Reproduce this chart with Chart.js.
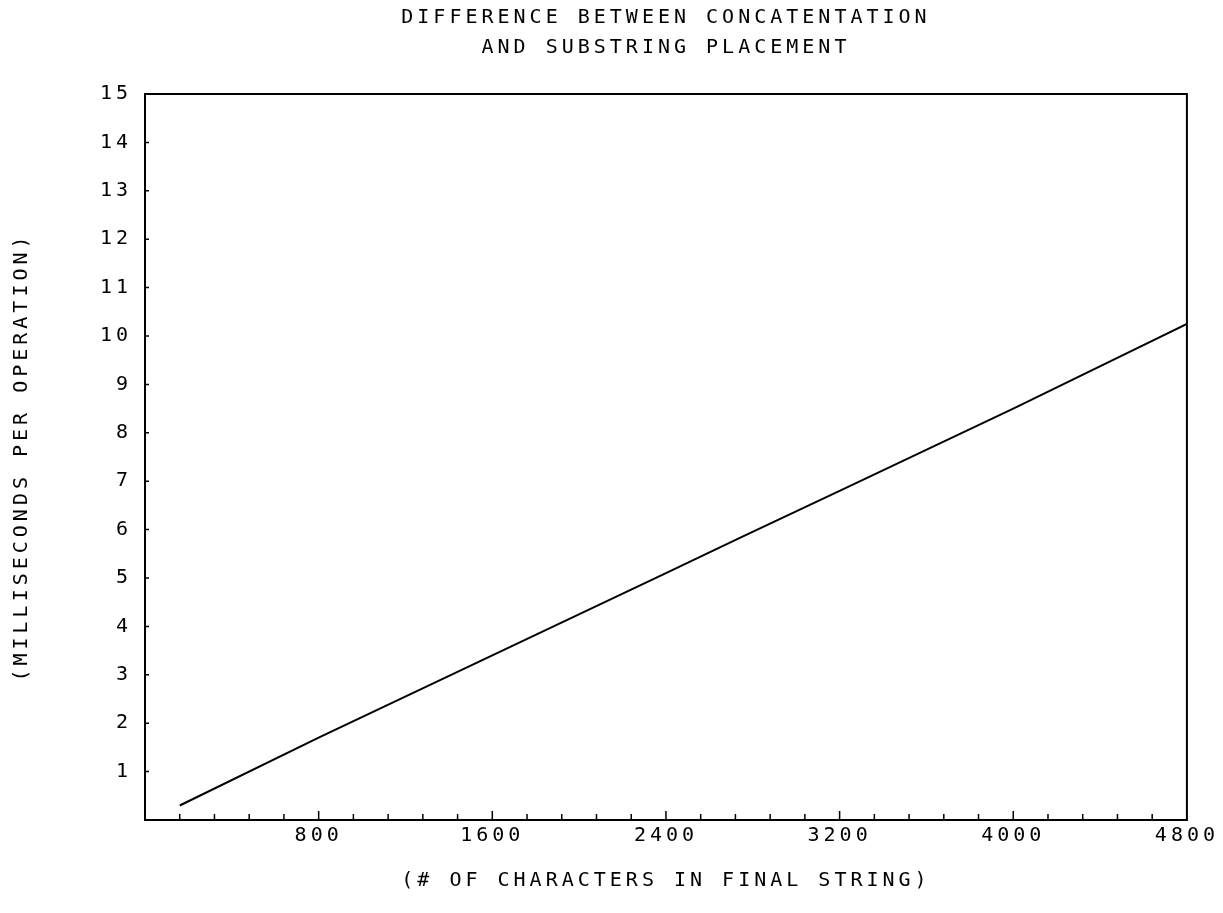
<!DOCTYPE html>
<html>
<head>
<meta charset="utf-8">
<script src="https://cdn.jsdelivr.net/npm/chart.js@4.4.1/dist/chart.umd.min.js"></script>
<style>
  html, body { margin: 0; padding: 0; background: #fff; }
  #wrap { width: 1223px; height: 913px; }
</style>
</head>
<body>
<div id="wrap"><canvas id="plot" width="1223" height="913"></canvas></div>
<script>
// data
var chars = [160, 800, 1600, 2400, 2750, 3200, 4000, 4800];
var msec = [0.3, 1.7, 3.4, 5.1, 5.85, 6.8, 8.5, 10.25];

var titleLines = ['DIFFERENCE BETWEEN CONCATENTATION', 'AND SUBSTRING PLACEMENT'];
var xTitle = '(# OF CHARACTERS IN FINAL STRING)';
var yTitle = '(MILLISECONDS PER OPERATION)';
var xMax = 4800, xStep = 160, xLabelEvery = 800;
var yMax = 15, yStep = 1;

var pts = [];
for (var i = 0; i < chars.length; i++) {
    pts.push({x: chars[i], y: msec[i]});
}

var mono = "'DejaVu Sans Mono', monospace";
Chart.defaults.color = '#000';

// wide plotter lettering
var spacing = {
    id: 'spacing',
    beforeUpdate: function (chart) { chart.ctx.letterSpacing = '4px'; },
    beforeDraw: function (chart) { chart.ctx.letterSpacing = '4px'; }
};

// box round the plot and ticks pointing inward
var frame = {
    id: 'frame',
    afterDatasetsDraw: function (chart) {
        var ctx = chart.ctx, a = chart.chartArea;
        var xs = chart.scales.x, ys = chart.scales.y;
        ctx.save();
        ctx.strokeStyle = '#000';
        ctx.lineWidth = 2;
        ctx.strokeRect(a.left, a.top, a.right - a.left, a.bottom - a.top);
        ctx.lineWidth = 1.5;
        ctx.beginPath();
        xs.ticks.forEach(function (t) {
            if (t.value <= 0 || t.value >= xMax) return;
            var px = xs.getPixelForValue(t.value);
            var len = (t.value % xLabelEvery === 0) ? 9 : 6;
            ctx.moveTo(px, a.bottom);
            ctx.lineTo(px, a.bottom - len);
        });
        ys.ticks.forEach(function (t) {
            if (t.value <= 0 || t.value >= yMax) return;
            var py = ys.getPixelForValue(t.value);
            ctx.moveTo(a.left, py);
            ctx.lineTo(a.left + 4, py);
        });
        ctx.stroke();
        ctx.restore();
    }
};

new Chart(document.getElementById('plot').getContext('2d'), {
    type: 'scatter',
    data: {
        datasets: [{
            data: pts,
            showLine: true,
            borderColor: '#000',
            borderWidth: 2,
            pointRadius: 0,
            tension: 0
        }]
    },
    options: {
        responsive: false,
        animation: false,
        layout: { padding: { left: 0, right: 36, top: 0, bottom: 0 } },
        plugins: {
            legend: { display: false },
            tooltip: { enabled: false },
            title: {
                display: true,
                fullSize: false,
                text: titleLines,
                color: '#000',
                font: { family: mono, size: 20, weight: 'normal', lineHeight: '30px' },
                padding: { top: 3, bottom: 31 }
            }
        },
        scales: {
            x: {
                type: 'linear',
                min: 0,
                max: xMax,
                grid: { display: false, drawTicks: false },
                border: { display: false },
                ticks: {
                    stepSize: xStep,
                    autoSkip: false,
                    maxRotation: 0,
                    padding: 4,
                    color: '#000',
                    font: { family: mono, size: 20 },
                    callback: function (v) {
                        return (v > 0 && v % xLabelEvery === 0) ? String(v) : '';
                    }
                },
                title: {
                    display: true,
                    text: xTitle,
                    color: '#000',
                    font: { family: mono, size: 20 },
                    padding: { top: 0, bottom: 20 }
                },
                afterFit: function (s) { s.height = 93; }
            },
            y: {
                min: 0,
                max: yMax,
                grid: { display: false, drawTicks: false },
                border: { display: false },
                ticks: {
                    stepSize: yStep,
                    padding: 13,
                    color: '#000',
                    font: { family: mono, size: 20 },
                    callback: function (v) { return v > 0 ? String(v) : ''; }
                },
                title: {
                    display: true,
                    text: yTitle,
                    color: '#000',
                    font: { family: mono, size: 20 },
                    padding: { top: 10, bottom: 0 }
                },
                afterFit: function (s) { s.width = 145; }
            }
        }
    },
    plugins: [spacing, frame]
});
</script>
</body>
</html>
